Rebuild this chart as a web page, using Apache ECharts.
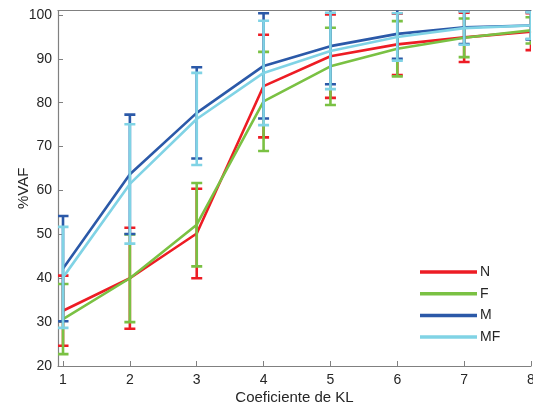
<!DOCTYPE html>
<html><head><meta charset="utf-8">
<script src="https://cdn.jsdelivr.net/npm/echarts@6/dist/echarts.min.js"></script>
<style>html,body{margin:0;padding:0;background:#fff}#c{width:533px;height:409px}</style>
</head><body><div id="c"></div>
<script>
var xs = [1, 2, 3, 4, 5, 6, 7, 8];
var xTicks = [1, 2, 3, 4, 5, 6, 7, 8];
var yTicks = [20, 30, 40, 50, 60, 70, 80, 90, 100];
var names = ['N', 'F', 'M', 'MF'];
var N = [32.6, 40, 50.2, 83.8, 90.6, 93.3, 94.9, 96.2];
var N_err = [8, 11.5, 10.2, 11.7, 9.5, 7, 5.6, 4.2];
var F = [30.7, 40, 52.2, 80.3, 88.3, 92.3, 94.8, 96.5];
var F_err = [8, 10, 9.5, 11.3, 8.8, 6.3, 4.4, 3];
var M = [42.2, 63.7, 77.7, 88.4, 92.9, 95.7, 97.2, 97.6];
var M_err = [12, 13.6, 10.4, 12, 8.7, 5.7, 3.8, 3.2];
var MF = [40.2, 61.5, 76.3, 86.8, 91.8, 95, 97.0, 97.6];
var MF_err = [11.5, 13.6, 10.5, 11.9, 8.7, 5.4, 3.8, 3];
var colors = ['#ED1C24', '#7AC143', '#2B59A8', '#80D3E5'];

var vals = [N, F, M, MF];
var errs = [N_err, F_err, M_err, MF_err];
var series = [];
var txt = '#262626';
names.forEach(function (nm, i) {
  series.push({
    name: nm, type: 'line', symbol: 'none', z: 2 + i * 2,
    lineStyle: { color: colors[i], width: 2.6 }, itemStyle: { color: colors[i] },
    data: xs.map(function (x, k) { return [x, vals[i][k]]; })
  });
  series.push({
    name: nm, type: 'custom', clip: true, z: 3 + i * 2,
    itemStyle: { color: colors[i] },
    data: xs.map(function (x, k) { return [x, vals[i][k] - errs[i][k], vals[i][k] + errs[i][k]]; }),
    renderItem: function (params, api) {
      var lo = api.coord([api.value(0), api.value(1)]);
      var hi = api.coord([api.value(0), api.value(2)]);
      var hw = 5.5;
      var st = { stroke: colors[i], lineWidth: 2.6 };
      return {
        type: 'group', children: [
          { type: 'line', shape: { x1: lo[0], y1: lo[1], x2: hi[0], y2: hi[1] }, style: st },
          { type: 'line', shape: { x1: lo[0] - hw, y1: lo[1], x2: lo[0] + hw, y2: lo[1] }, style: st },
          { type: 'line', shape: { x1: hi[0] - hw, y1: hi[1], x2: hi[0] + hw, y2: hi[1] }, style: st }
        ]
      };
    }
  });
});

var chart = echarts.init(document.getElementById('c'), null, { renderer: 'canvas' });
chart.setOption({
  animation: false,
  textStyle: { fontFamily: 'Liberation Sans, Arial, sans-serif' },
  grid: { left: 58, right: 2, top: 10.6, bottom: 43, containLabel: false, outerBoundsMode: 'none' },
  legend: {
    data: names, orient: 'vertical', left: 415, top: 260,
    icon: 'rect', itemWidth: 57, itemHeight: 3.5, itemGap: 7.7,
    textStyle: { fontSize: 14, color: txt, padding: [0, 0, 0, -2] }
  },
  xAxis: [{
    type: 'value', min: 0.925, max: 8,
    name: 'Coeficiente de KL', nameLocation: 'middle', nameGap: 24, nameMoveOverlap: false,
    nameTextStyle: { fontSize: 15, color: txt },
    axisLine: { lineStyle: { color: '#808080', width: 1.2 } },
    axisTick: { inside: true, length: 5, customValues: xTicks, lineStyle: { color: '#808080' } },
    axisLabel: { customValues: xTicks, fontSize: 14, color: txt, margin: 7 },
    splitLine: { show: false }
  }, {
    type: 'value', min: 0.925, max: 8, position: 'top',
    axisLine: { show: true, lineStyle: { color: '#808080', width: 1.2 } },
    axisTick: { show: false }, axisLabel: { show: false }, splitLine: { show: false }
  }],
  yAxis: [{
    type: 'value', min: 20, max: 101,
    name: '%VAF', nameLocation: 'middle', nameGap: 27, nameMoveOverlap: false,
    nameTextStyle: { fontSize: 15, color: txt },
    axisLine: { show: true, lineStyle: { color: '#808080', width: 1.2 } },
    axisTick: { show: true, inside: true, length: 5, customValues: yTicks, lineStyle: { color: '#808080' } },
    axisLabel: { customValues: yTicks, fontSize: 14, color: txt, margin: 6 },
    splitLine: { show: false }
  }],
  series: series
});
</script></body></html>
